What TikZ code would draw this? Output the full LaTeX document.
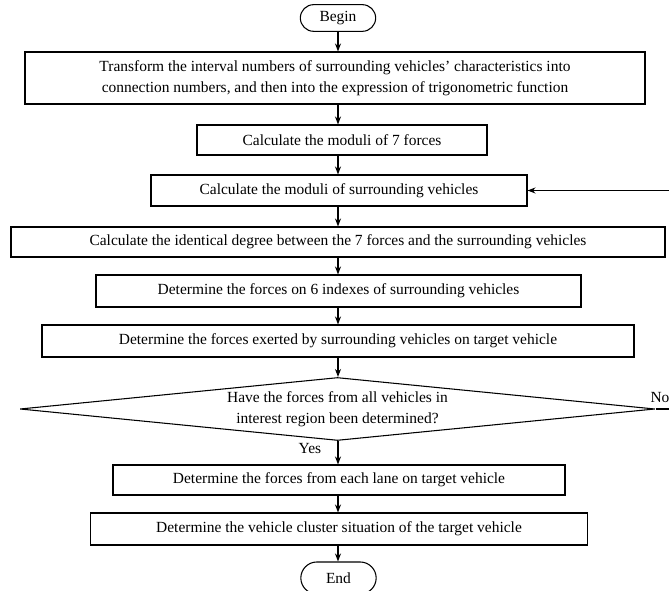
\documentclass[tikz,border=0pt]{standalone}
\usepackage{fontspec}
\setmainfont{Liberation Serif}
\usetikzlibrary{arrows.meta,shapes.geometric,shapes.misc}
\begin{document}
\begin{tikzpicture}[x=0.75pt,y=-0.75pt,
  line width=0.8pt,
  font=\fontsize{11.6}{15.5}\selectfont,
  box/.style={draw, rectangle, inner sep=2pt, align=center},
  term/.style={draw, rounded rectangle, minimum width=58.5pt, minimum height=20pt, inner sep=1pt},
  decision/.style={draw, diamond, aspect=10.1, align=center, inner sep=0pt},
  arr/.style={-{Stealth[length=6pt,width=4.5pt]}},
  lbl/.style={inner sep=1pt}]
\useasboundingbox (0,0) rectangle (669,591);
\clip (0,0) rectangle (669,591);
\node[term] (begin) at (338,18) {Begin};
\node[box, minimum width=465pt, minimum height=39pt] (b1) at (335,78)
  {Transform the interval numbers of surrounding vehicles' characteristics into\\connection numbers, and then into the expression of trigonometric function};
\node[box, minimum width=217.5pt, minimum height=22.5pt] (b2) at (342,140) {Calculate the moduli of 7 forces};
\node[box, minimum width=282pt, minimum height=23.25pt] (b3) at (339,190.5) {Calculate the moduli of surrounding vehicles};
\node[box, minimum width=490.5pt, minimum height=22.5pt] (b4) at (338,242) {Calculate the identical degree between the 7 forces and the surrounding vehicles};
\node[box, minimum width=363.75pt, minimum height=24pt] (b5) at (338.5,291) {Determine the forces on 6 indexes of surrounding vehicles};
\node[box, minimum width=444pt, minimum height=24pt] (b6) at (338,341) {Determine the forces exerted by surrounding vehicles on target vehicle};
\node[decision, minimum width=476.25pt, minimum height=47.25pt] (d) at (337.5,409)
  {Have the forces from all vehicles in\\interest region been determined?};
\node[box, minimum width=339pt, minimum height=22.5pt] (b7) at (339,480) {Determine the forces from each lane on target vehicle};
\node[box, minimum width=372.75pt, minimum height=24pt] (b8) at (339,529) {Determine the vehicle cluster situation of the target vehicle};
\node[term, minimum height=24pt] (end) at (338.5,578) {End};
\node[lbl] (yes) at (310,449) {Yes};
\node[lbl] (no) at (660,398) {No};
\coordinate (r1) at (680,409);
\coordinate (r2) at (680,190.5);
\coordinate (ax) at (338,0);
\draw[arr] (begin.south -| ax) -- (b1.north -| ax);
\draw[arr] (b1.south -| ax) -- (b2.north -| ax);
\draw[arr] (b2.south -| ax) -- (b3.north -| ax);
\draw[arr] (b3.south -| ax) -- (b4.north -| ax);
\draw[arr] (b4.south -| ax) -- (b5.north -| ax);
\draw[arr] (b5.south -| ax) -- (b6.north -| ax);
\draw[arr] (b6.south -| ax) -- (d.north -| ax);
\draw[arr] (d.south -| ax) -- (b7.north -| ax);
\draw[arr] (b7.south -| ax) -- (b8.north -| ax);
\draw[arr] (b8.south -| ax) -- (end.north -| ax);
\draw[arr] (d.east) -- (r1) -- (r2) -- (b3.east);
\end{tikzpicture}
\end{document}
